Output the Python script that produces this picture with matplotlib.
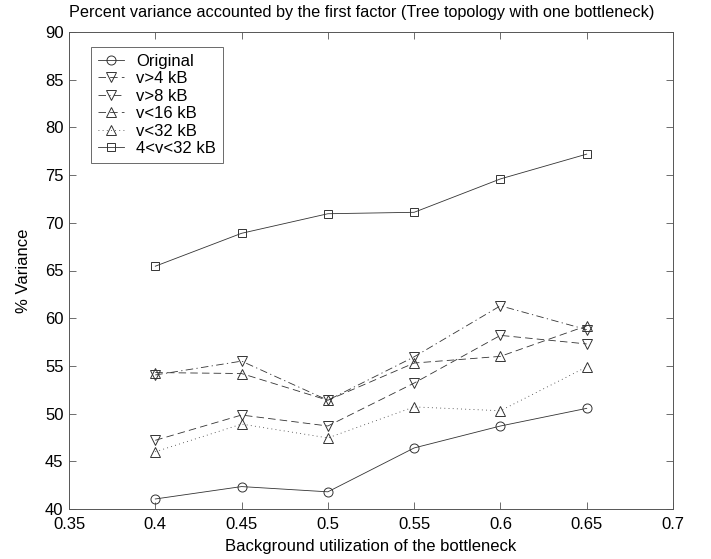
import matplotlib
matplotlib.use("Agg")
import matplotlib.pyplot as plt

plt.rcParams['font.family'] = ['Liberation Sans', 'DejaVu Sans']

utilization = [0.40, 0.45, 0.50, 0.55, 0.60, 0.65]

original = [41.05, 42.35, 41.8, 46.4, 48.7, 50.55]
v_gt_4 = [47.2, 49.85, 48.7, 53.2, 58.2, 57.3]
v_gt_8 = [54.05, 55.5, 51.4, 55.95, 61.3, 58.8]
v_lt_16 = [54.3, 54.2, 51.4, 55.3, 56.0, 59.2]
v_lt_32 = [46.0, 48.9, 47.45, 50.7, 50.3, 54.9]
band_4_32 = [65.45, 68.9, 70.95, 71.1, 74.6, 77.2]

series = [
    ("Original", original, "o", "-", 6.5),
    ("v>4 kB", v_gt_4, "v", (0, (9, 5)), 7),
    ("v>8 kB", v_gt_8, "v", (0, (9, 4, 1.5, 4)), 7),
    ("v<16 kB", v_lt_16, "^", (0, (9, 5)), 7),
    ("v<32 kB", v_lt_32, "^", (0, (1, 4)), 7),
    ("4<v<32 kB", band_4_32, "s", "-", 6),
]

xticks = [0.35, 0.4, 0.45, 0.5, 0.55, 0.6, 0.65, 0.7]
xticklabels = ["0.35", "0.4", "0.45", "0.5", "0.55", "0.6", "0.65", "0.7"]
yticks = [40, 45, 50, 55, 60, 65, 70, 75, 80, 85, 90]

fig = plt.figure(figsize=(7.11, 5.59), dpi=100)
ax = fig.add_axes([69 / 711, 1 - 509 / 559, (673 - 69) / 711, (509 - 32) / 559])

ink = "#333333"
for label, vals, marker, ls, ms in series:
    ax.plot(utilization, vals, color=ink, linestyle=ls, linewidth=0.6,
            marker=marker, markersize=ms, markerfacecolor="none",
            markeredgecolor=ink, markeredgewidth=0.7, label=label)

ax.set_xlim(0.35, 0.7)
ax.set_ylim(40, 90)
ax.set_xticks(xticks)
ax.set_xticklabels(xticklabels)
ax.set_yticks(yticks)
ax.tick_params(direction="in", top=True, right=True, labelsize=12,
               length=5, width=0.6, color="#555555")
ax.tick_params(axis="x", pad=6)
ax.tick_params(axis="y", pad=4)
for sp in ax.spines.values():
    sp.set_linewidth(0.7)
    sp.set_color("#555555")

ax.set_xlabel("Background utilization of the bottleneck", fontsize=12, labelpad=5)
ax.set_ylabel("% Variance", fontsize=12, labelpad=10)
ax.set_title("Percent variance accounted by the first factor (Tree topology with one bottleneck)",
             fontsize=11.7, pad=11, x=0.485)

leg = ax.legend(loc="upper left", bbox_to_anchor=(22 / 604, 1 - 15 / 477),
                fontsize=12, frameon=True, fancybox=False, handlelength=1.6,
                handletextpad=0.7, borderpad=0.4, labelspacing=0.15,
                borderaxespad=0)
leg.get_frame().set_edgecolor("#444444")
leg.get_frame().set_linewidth(0.7)

fig.savefig("out.png", dpi=100)
